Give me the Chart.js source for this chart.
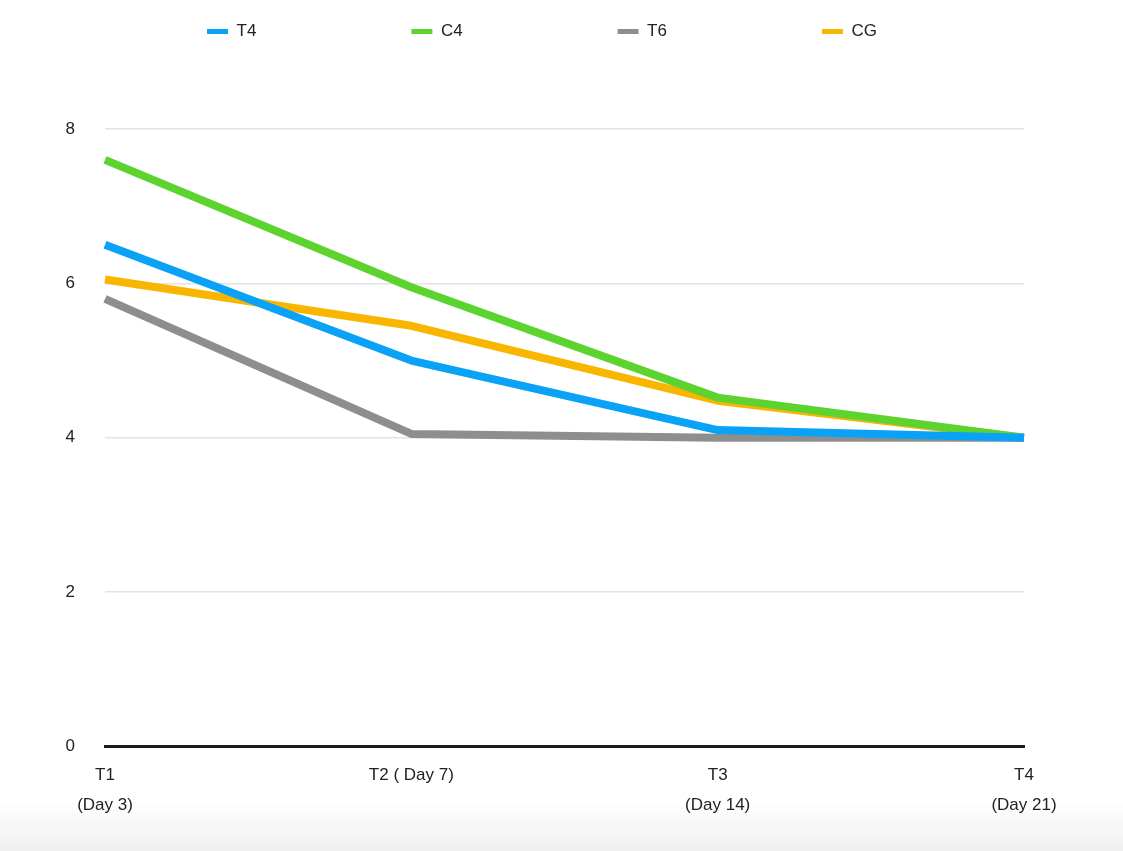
<!DOCTYPE html>
<html>
<head>
<meta charset="utf-8">
<script src="https://cdn.jsdelivr.net/npm/chart.js@4"></script>
<style>
  html, body { margin: 0; padding: 0; }
  body {
    width: 1123px; height: 851px; overflow: hidden;
    background: linear-gradient(to bottom, #ffffff 0px, #ffffff 800px, #f0f0f0 851px);
  }
  #wrap { position: relative; width: 1123px; height: 851px; }
</style>
</head>
<body>
<div id="wrap"><canvas id="myChart"></canvas></div>
<script>
// Categories (time points)
const labels = [['T1', '(Day 3)'], 'T2 ( Day 7)', ['T3', '(Day 14)'], ['T4', '(Day 21)']];

// Series values
const t4 = [6.5, 5.0, 4.1, 4.0];
const c4 = [7.6, 5.95, 4.52, 4.0];
const t6 = [5.8, 4.05, 4.0, 4.0];
const cg = [6.05, 5.45, 4.48, 4.0];

// Y axis ticks
const yTicks = [0, 2, 4, 6, 8];

const textColor = '#222';
const fontFamily = '"Liberation Sans", Arial, sans-serif';

// the legend uses big gaps between items, so pull it back up to the top
// and size its box so the plot starts where the reference does
const legendPlace = {
    id: 'legendPlace',
    beforeInit(chart) {
        const fit = chart.legend.fit;
        chart.legend.fit = function () {
            fit.bind(chart.legend)();
            this.height -= 65;
        };
    },
    afterLayout(chart) {
        const lg = chart.legend;
        lg.top -= 144;
        lg.left += 30;
        lg.right += 30;
    }
};

function makeSet(label, data, color) {
    return {
        label: label,
        data: data,
        borderColor: color,
        backgroundColor: color,
        borderWidth: 8,
        pointRadius: 0,
        pointHoverRadius: 0,
        tension: 0,
        borderCapStyle: 'butt',
        borderJoinStyle: 'round'
    };
}

const ctx = document.getElementById('myChart').getContext('2d');
const myChart = new Chart(ctx, {
    type: 'line',
    data: {
        labels: labels,
        datasets: [
            makeSet('T4', t4, '#0aa2f7'),
            makeSet('C4', c4, '#5cd32e'),
            makeSet('T6', t6, '#8e8e8e'),
            makeSet('CG', cg, '#f8b600')
        ]
    },
    options: {
        responsive: true,
        maintainAspectRatio: false,
        animation: false,
        layout: { padding: { top: 12, right: 99, bottom: 17, left: 0 } },
        plugins: {
            legend: {
                position: 'top',
                labels: {
                    boxWidth: 21,
                    boxHeight: 5,
                    padding: 155,
                    color: textColor,
                    font: { family: fontFamily, size: 17 },
                    generateLabels(chart) {
                        const items = Chart.defaults.plugins.legend.labels.generateLabels(chart);
                        items.forEach(it => { it.lineWidth = 0; });
                        return items;
                    }
                }
            },
            tooltip: { enabled: false }
        },
        scales: {
            x: {
                offset: false,
                grid: { display: false, drawTicks: false },
                border: { display: true, color: '#1a1a1a', width: 3 },
                ticks: {
                    color: textColor,
                    padding: 14,
                    maxRotation: 0,
                    autoSkip: false,
                    font: { family: fontFamily, size: 17, lineHeight: 1.75 }
                }
            },
            y: {
                min: 0,
                max: 8,
                afterBuildTicks(scale) {
                    scale.ticks = yTicks.map(v => ({ value: v }));
                },
                afterFit(scale) { scale.width = 105; },
                grid: {
                    drawTicks: false,
                    color: c => c.tick && c.tick.value === 0 ? '#1a1a1a' : '#e3e3e3',
                    lineWidth: c => c.tick && c.tick.value === 0 ? 3 : 1.5
                },
                border: { display: false },
                ticks: {
                    color: textColor,
                    padding: 30,
                    font: { family: fontFamily, size: 17 }
                }
            }
        }
    },
    plugins: [legendPlace]
});
</script>
</body>
</html>
